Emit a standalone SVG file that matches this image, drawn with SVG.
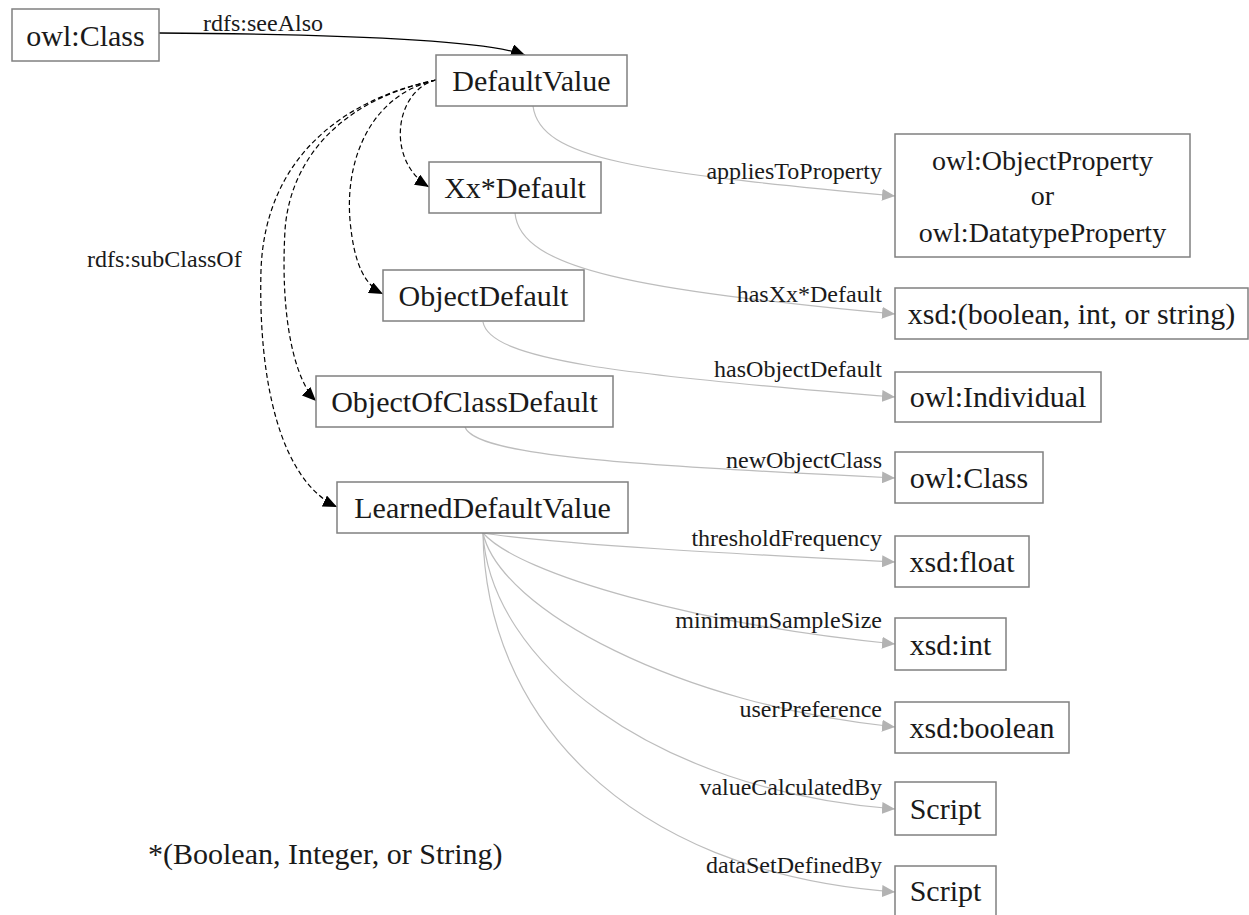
<svg xmlns="http://www.w3.org/2000/svg" width="1249" height="915" viewBox="0 0 1249 915">
<style>
text{font-family:"Liberation Serif","Times New Roman",serif;fill:#1a1a1a}
.node rect{fill:#fff;stroke:#808080;stroke-width:1.5}
.node text{font-size:30px;text-anchor:middle}
.lbl{font-size:24px}
.lr{font-size:24px;text-anchor:end}
.prop{fill:none;stroke:#bdbdbd;stroke-width:1.2}
.sub{fill:none;stroke:#000;stroke-width:1.2;stroke-dasharray:5,3}
.see{fill:none;stroke:#000;stroke-width:1.3}
</style>
<defs>
<marker id="ag" markerUnits="userSpaceOnUse" markerWidth="14" markerHeight="12" refX="13" refY="6" orient="auto"><path d="M0,0 L13,6 L0,12 z" fill="#b3b3b3"/></marker>
<marker id="ab" markerUnits="userSpaceOnUse" markerWidth="15" markerHeight="12" refX="14" refY="6" orient="auto"><path d="M0,0 L14,6 L0,12 z" fill="#000"/></marker>
</defs>
<rect width="1249" height="915" fill="#fff"/>
<g id="connectors">
<path class="see" d="M159,33 C300,34 480,38 525,55" marker-end="url(#ab)"/>
<text class="lbl" x="203" y="31">rdfs:seeAlso</text>
<path class="sub" d="M436,80 C395,90 385,160 429,187" marker-end="url(#ab)"/>
<path class="sub" d="M436,80 C370,95 345,160 350,220 C354,265 365,285 383,294" marker-end="url(#ab)"/>
<path class="sub" d="M436,80 C340,100 290,160 285,230 C280,320 295,380 316,401" marker-end="url(#ab)"/>
<path class="sub" d="M436,80 C340,100 265,160 261,270 C258,380 280,480 337,507" marker-end="url(#ab)"/>
<text class="lbl" x="87" y="267">rdfs:subClassOf</text>
<path class="prop" d="M533,106 C540,160 640,172 895,196" marker-end="url(#ag)"/>
<text class="lr" x="882" y="179">appliesToProperty</text>
<path class="prop" d="M515,213 C520,270 640,290 895,314" marker-end="url(#ag)"/>
<text class="lr" x="882" y="302">hasXx*Default</text>
<path class="prop" d="M483,322 C490,360 620,375 895,397" marker-end="url(#ag)"/>
<text class="lr" x="882" y="377">hasObjectDefault</text>
<path class="prop" d="M465,427 C475,455 620,465 895,478" marker-end="url(#ag)"/>
<text class="lr" x="882" y="468">newObjectClass</text>
<path class="prop" d="M483,533 C560,545 760,555 895,562" marker-end="url(#ag)"/>
<text class="lr" x="882" y="546">thresholdFrequency</text>
<path class="prop" d="M483,533 C520,575 700,625 895,644" marker-end="url(#ag)"/>
<text class="lr" x="882" y="628">minimumSampleSize</text>
<path class="prop" d="M483,533 C500,610 680,705 895,727" marker-end="url(#ag)"/>
<text class="lr" x="882" y="717">userPreference</text>
<path class="prop" d="M483,533 C490,660 650,790 895,809" marker-end="url(#ag)"/>
<text class="lr" x="882" y="795">valueCalculatedBy</text>
<path class="prop" d="M483,533 C485,710 620,872 895,892" marker-end="url(#ag)"/>
<text class="lr" x="882" y="873">dataSetDefinedBy</text>
</g>
<g id="n-owlClass" class="node"><rect x="12" y="9" width="147" height="52"/><text x="85.5" y="46">owl:Class</text></g>
<g id="n-DefaultValue" class="node"><rect x="436" y="55" width="191" height="51"/><text x="531.5" y="91">DefaultValue</text></g>
<g id="n-XxDefault" class="node"><rect x="429" y="162" width="172" height="51"/><text x="515" y="198">Xx*Default</text></g>
<g id="n-ObjectDefault" class="node"><rect x="383" y="270" width="201" height="51"/><text x="483.5" y="306">ObjectDefault</text></g>
<g id="n-ObjectOfClassDefault" class="node"><rect x="316" y="376" width="297" height="51"/><text x="464.5" y="412">ObjectOfClassDefault</text></g>
<g id="n-LearnedDefaultValue" class="node"><rect x="337" y="482" width="291" height="51"/><text x="482.5" y="518">LearnedDefaultValue</text></g>
<g id="n-Property" class="node"><rect x="895" y="134" width="295" height="123"/><text x="1042.5" y="170" style="font-size:28px">owl:ObjectProperty</text><text x="1042.5" y="205" style="font-size:28px">or</text><text x="1042.5" y="242" style="font-size:28px">owl:DatatypeProperty</text></g>
<g id="n-xsdUnion" class="node"><rect x="895" y="288" width="353" height="51"/><text x="1071.5" y="324">xsd:(boolean, int, or string)</text></g>
<g id="n-owlIndividual" class="node"><rect x="895" y="372" width="206" height="50"/><text x="998" y="407">owl:Individual</text></g>
<g id="n-owlClass2" class="node"><rect x="895" y="452" width="148" height="51"/><text x="969" y="488">owl:Class</text></g>
<g id="n-xsdFloat" class="node"><rect x="895" y="536" width="134" height="51"/><text x="962" y="572">xsd:float</text></g>
<g id="n-xsdInt" class="node"><rect x="895" y="618" width="111" height="52"/><text x="950.5" y="655">xsd:int</text></g>
<g id="n-xsdBoolean" class="node"><rect x="895" y="702" width="174" height="51"/><text x="982" y="738">xsd:boolean</text></g>
<g id="n-Script1" class="node"><rect x="895" y="782" width="101" height="53"/><text x="945.5" y="819">Script</text></g>
<g id="n-Script2" class="node"><rect x="895" y="866" width="101" height="60"/><text x="945.5" y="901">Script</text></g>
<text x="148" y="864" style="font-size:30px">*(Boolean, Integer, or String)</text>
</svg>
